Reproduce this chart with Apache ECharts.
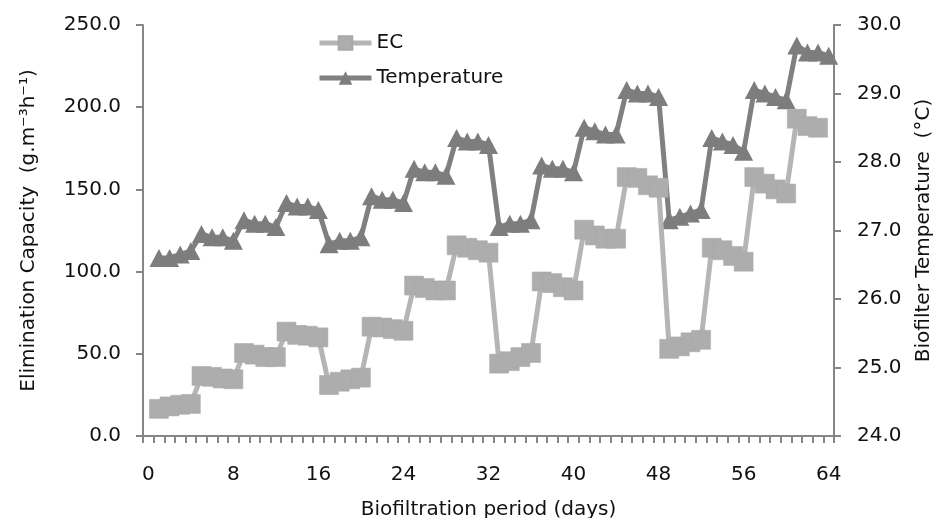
<!DOCTYPE html>
<html>
<head>
<meta charset="utf-8">
<script src="https://cdn.jsdelivr.net/npm/echarts@6/dist/echarts.min.js"></script>
<style>
html,body{margin:0;padding:0;background:#fff;}
#c{width:939px;height:518px;}
</style>
</head>
<body>
<div id="c"></div>
<script>
var days = ['0','1','2','3','4','5','6','7','8','9','10','11','12','13','14','15','16','17','18','19','20','21','22','23','24','25','26','27','28','29','30','31','32','33','34','35','36','37','38','39','40','41','42','43','44','45','46','47','48','49','50','51','52','53','54','55','56','57','58','59','60','61','62','63','64'];

var ecValues = [null,
  16.5, 18.0, 19.0, 19.5,
  36.5, 36.0, 35.0, 34.5,
  50.5, 49.5, 48.0, 48.0,
  63.5, 61.5, 61.0, 60.0,
  31.0, 33.0, 34.5, 35.5,
  66.5, 66.0, 65.0, 64.0,
  91.5, 90.0, 88.5, 88.5,
  116.0, 114.5, 113.0, 111.5,
  44.0, 45.5, 48.0, 50.5,
  94.0, 93.0, 90.5, 88.5,
  125.5, 122.0, 120.0, 120.0,
  157.5, 157.0, 152.5, 151.0,
  53.0, 54.5, 57.0, 58.5,
  114.5, 113.0, 109.5, 106.0,
  157.5, 153.5, 150.0, 147.5,
  193.0, 188.5, 187.5, null];

var tempValues = [null,
  26.6, 26.6, 26.65, 26.7,
  26.95, 26.9, 26.9, 26.85,
  27.15, 27.1, 27.1, 27.05,
  27.4, 27.35, 27.35, 27.3,
  26.8, 26.85, 26.85, 26.9,
  27.5, 27.45, 27.45, 27.4,
  27.9, 27.85, 27.85, 27.8,
  28.35, 28.3, 28.3, 28.25,
  27.05, 27.1, 27.1, 27.15,
  27.95, 27.9, 27.9, 27.85,
  28.5, 28.45, 28.4, 28.4,
  29.05, 29.0, 29.0, 28.95,
  27.15, 27.2, 27.25, 27.3,
  28.35, 28.3, 28.25, 28.15,
  29.05, 29.0, 28.95, 28.9,
  29.7, 29.6, 29.6, 29.55];

var seriesNames = ['EC', 'Temperature'];
var xTitle = 'Biofiltration period (days)';
var leftTitle = 'Elimination Capacity  (g.m\u207B\u00B3h\u207B\u00B9)';
var rightTitle = 'Biofilter Temperature  (\u00B0C)';

var FONT = 'DejaVu Sans';
var axisColor = '#868686';
var chart = echarts.init(document.getElementById('c'), null, {renderer: 'canvas'});
var txt = {fontFamily: FONT, fontSize: 20, color: '#111'};

chart.setOption({
  animation: false,
  backgroundColor: '#fff',
  textStyle: {fontFamily: FONT},
  grid: {left: 143, right: 105, top: 25, bottom: 82, containLabel: false, outerBoundsMode: 'none'},
  legend: {
    orient: 'vertical',
    left: 312, top: 28,
    itemWidth: 52, itemHeight: 17, itemGap: 15,
    lineStyle: {width: 5},
    textStyle: {fontFamily: FONT, fontSize: 20, color: '#111'},
    data: seriesNames
  },
  xAxis: {
    type: 'category',
    data: days,
    boundaryGap: true,
    axisLine: {lineStyle: {color: axisColor, width: 2}},
    axisTick: {show: true, interval: 0, length: 7, lineStyle: {color: axisColor, width: 2}},
    axisLabel: Object.assign({interval: 7, margin: 29}, txt),
    splitLine: {show: false},
    name: xTitle,
    nameLocation: 'middle',
    nameGap: 64,
    nameTextStyle: txt
  },
  yAxis: [{
    type: 'value',
    min: 0, max: 250, interval: 50,
    position: 'left',
    axisLine: {show: true, lineStyle: {color: axisColor, width: 2}},
    axisTick: {show: true, length: 7, lineStyle: {color: axisColor, width: 2}},
    axisLabel: Object.assign({margin: 22, formatter: function(v){return v.toFixed(1);}}, txt),
    splitLine: {show: false},
    name: leftTitle,
    nameLocation: 'middle',
    nameGap: 104,
    nameRotate: 90,
    nameTextStyle: txt
  }, {
    type: 'value',
    min: 24, max: 30, interval: 1,
    position: 'right',
    axisLine: {show: true, lineStyle: {color: axisColor, width: 2}},
    axisTick: {show: true, length: 7, lineStyle: {color: axisColor, width: 2}},
    axisLabel: Object.assign({margin: 23, formatter: function(v){return v.toFixed(1);}}, txt),
    splitLine: {show: false},
    name: rightTitle,
    nameLocation: 'middle',
    nameGap: 80,
    nameRotate: 90,
    nameTextStyle: txt
  }],
  series: [{
    name: seriesNames[0],
    type: 'line',
    yAxisIndex: 0,
    data: ecValues,
    symbol: 'rect',
    symbolSize: 19,
    showAllSymbol: true,
    connectNulls: false,
    z: 3,
    lineStyle: {color: '#b5b5b5', width: 5},
    itemStyle: {color: '#adadad', borderColor: '#a8a8a8', borderWidth: 0.5}
  }, {
    name: seriesNames[1],
    type: 'line',
    yAxisIndex: 1,
    data: tempValues,
    symbol: 'triangle',
    symbolSize: [19, 18],
    showAllSymbol: true,
    connectNulls: false,
    z: 2,
    lineStyle: {color: '#808080', width: 5},
    itemStyle: {color: '#7d7d7d'}
  }]
});
</script>
</body>
</html>
